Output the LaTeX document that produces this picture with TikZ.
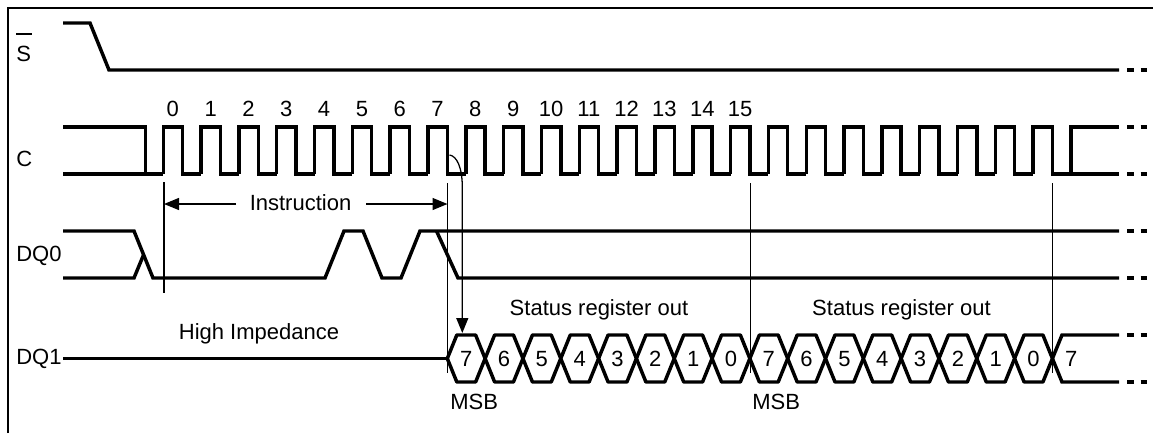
\documentclass[tikz,border=0pt]{standalone}
\usepackage{fontspec}
\setmainfont{Liberation Sans}
\usetikzlibrary{arrows.meta}
\tikzset{
  x=0.75pt,y=-0.75pt,
  wave/.style={line width=2.6pt,line join=miter,miter limit=4},
  thin rule/.style={line width=0.95pt},
  frame line/.style={line width=1.75pt},
  lbl/.style={font=\fontsize{16.5pt}{18pt}\selectfont,inner sep=0pt,anchor=base},
  sig/.style={lbl,anchor=base west},
  head/.style={-{Triangle[length=11.25pt,width=9pt]}}
}
\newcommand{\dashes}[1]{%
  \draw[wave] (1127,#1) -- (1134,#1);
  \draw[wave] (1140.5,#1) -- (1147,#1);
}
\begin{document}
\begin{tikzpicture}
\useasboundingbox (0,0) rectangle (1153,433);
\fill[white] (0,0) rectangle (1153,433);
% frame
\draw[frame line] (8,433) -- (8,8) -- (1153,8);
% labels
\node[sig] (ls) at (16,61) {S};
\draw[thin rule] (16,34) -- (32,34);
\node[sig] (lc) at (16,166) {C};
\node[sig] (ldq0) at (16,261) {DQ0};
\node[sig] (ldq1) at (16,364) {DQ1};
% S
\draw[wave] (63,23) -- (90,23) -- (109,70) -- (1119,70);
\dashes{70}
% C
\draw[wave] (63,127) -- (145.5,127) -- (145.5,174);
\draw[wave] (63,174) -- (163.3,174);
\foreach \n in {0,...,23}{
  \draw[wave] ({163.3+37.82*\n},174) -- ({163.3+37.82*\n},127) -- ({182.6+37.82*\n},127) -- ({182.6+37.82*\n},174) -- ({201.1+37.82*\n},174);
}
\draw[wave] (1071,174) -- (1071,127) -- (1119,127);
\draw[wave] (1071,174) -- (1119,174);
\dashes{127}
\dashes{174}
\foreach \n in {0,...,15}{
  \node[lbl] (clk\n) at ({172.8+37.82*\n},116) {\n};
}
% DQ0
\draw[wave] (63,231) -- (134,231) -- (153,278) -- (325,278) -- (344,231) -- (363,231) -- (382,278) -- (401,278) -- (420,231) -- (1119,231);
\draw[wave] (63,278) -- (134,278) -- (143.5,255);
\draw[wave] (436.5,231) -- (458,278) -- (1119,278);
\dashes{231}
\dashes{278}
% DQ1
\draw[wave] (63,358.5) -- (447.3,358.5);
\foreach \k in {0,...,15}{
  \pgfmathsetmacro{\xa}{447.3+37.82*\k}
  \pgfmathsetmacro{\xb}{\xa+37.82}
  \draw[wave,line join=bevel] (\xa,358.5) -- (\xa+9.5,335) -- (\xb-9.5,335) -- (\xb,358.5) -- (\xb-9.5,382) -- (\xa+9.5,382) -- cycle;
}
\draw[wave] (1052.4,358.5) -- (1062,335) -- (1119,335);
\draw[wave] (1052.4,358.5) -- (1062,382) -- (1119,382);
\dashes{335}
\dashes{382}
\foreach \d/\k in {7/0,6/1,5/2,4/3,3/4,2/5,1/6,0/7,7/8,6/9,5/10,4/11,3/12,2/13,1/14,0/15,7/16}{
  \node[lbl] (bit\k) at ({466.2+37.82*\k},366) {\d};
}
% timing rules
\coordinate (r1a) at (164,182); \coordinate (r1b) at (164,293);
\coordinate (r2a) at (447.5,183); \coordinate (r2b) at (447.5,373);
\coordinate (r3a) at (750.3,183); \coordinate (r3b) at (750.3,373);
\coordinate (r4a) at (1052.4,183); \coordinate (r4b) at (1052.4,373);
\draw[thin rule] (r1a) -- (r1b);
\draw[thin rule] (r2a) -- (r2b);
\draw[thin rule] (r3a) -- (r3b);
\draw[thin rule] (r4a) -- (r4b);
% instruction
\node[lbl] (instr) at (300.5,210) {Instruction};
\coordinate (ia) at (236,204); \coordinate (ib) at (164,204);
\coordinate (ic) at (366,204); \coordinate (id) at (447.5,204);
\draw[thin rule,head] (ia) -- (ib);
\draw[thin rule,head] (ic) -- (id);
% curved arrow
\coordinate (ca) at (449.5,155); \coordinate (cb) at (462.3,333);
\draw[thin rule,head] (ca) .. controls (457,156) and (462.3,168) .. (462.3,187) -- (cb);
% captions
\node[lbl] (hi) at (259,339) {High Impedance};
\node[lbl] (st1) at (599,315) {Status register out};
\node[lbl] (st2) at (901.5,315) {Status register out};
\node[sig] (m1) at (450,409) {MSB};
\node[sig] (m2) at (752,409) {MSB};
\end{tikzpicture}
\end{document}
